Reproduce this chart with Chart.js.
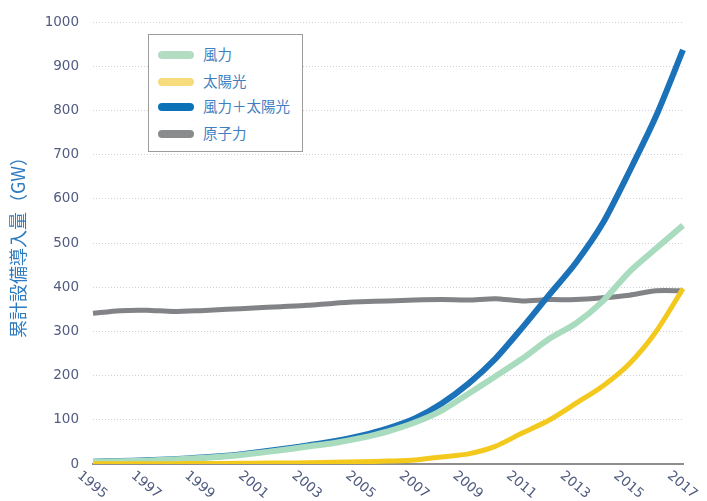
<!DOCTYPE html>
<html>
<head>
<meta charset="utf-8">
<script src="https://cdn.jsdelivr.net/npm/chart.js@4"></script>
<style>
  html,body{margin:0;padding:0;background:#fff;}
  #wrap{position:relative;width:707px;height:501px;}
  #legend{position:absolute;left:148px;top:34px;width:153px;height:116px;border:1px solid #9c9c9c;background:#fff;
    font-family:"Noto Sans CJK JP",sans-serif;font-size:14.5px;color:#3f7fc1;}
  .lg-row{position:absolute;left:9px;height:20px;line-height:20px;white-space:nowrap;}
  .lg-sw{display:inline-block;width:36px;height:8px;border-radius:4px;vertical-align:middle;margin-right:9px;position:relative;top:-1px;}
</style>
</head>
<body>
<div id="wrap">
  <canvas id="c" width="707" height="501"></canvas>
  <div id="legend"></div>
</div>
<script>
'use strict';

// data, GW
var YEARS=['1995','1996','1997','1998','1999','2000','2001','2002','2003','2004','2005','2006',
  '2007','2008','2009','2010','2011','2012','2013','2014','2015','2016','2017'];
var WIND=[4.8,6.1,7.6,10.2,13.6,17.4,23.9,31.1,39.4,47.6,59,74,94,121,159,198,238,283,318,368,435,488,540];
var SOLAR=[0.5,0.6,0.7,0.8,1.0,1.3,1.8,2.2,2.8,3.9,5.1,6.7,9,16,23,40,70,99,137,176,227,300,397];
var COMBINED=[5.3,6.7,8.3,11.0,14.6,18.7,25.7,33.3,42.2,51.5,64.1,80.7,103,137,182,238,308,382,455,544,662,788,937];
var NUCLEAR=[341,347,348,345,347,350,353,356,359,364,367,369,371,372,371,374,369,372,372,376,382,392,392];
var Y_TICKS=[0,100,200,300,400,500,600,700,800,900,1000];

var NAMES=['風力','太陽光','風力＋太陽光','原子力'];
var LINE_COL=['#a9dbbf','#f3c91e','#1b72b8','#818386'];
var SWATCH_COL=['#b4dcc3','#f6dc7c','#0b72b8','#898b8d'];

var TICK_COL='#515c80';
var TICK_FONT='13.5px "DejaVu Sans", sans-serif';

// slanted year labels, written downward to the right from each odd year
var xLabels={
  id:'xLabels',
  afterDraw:function(chart){
    var ctx=chart.ctx,xs=chart.scales.x,ca=chart.chartArea;
    ctx.save();
    ctx.fillStyle=TICK_COL;ctx.font=TICK_FONT;
    ctx.textAlign='left';ctx.textBaseline='middle';
    for(var i=0;i<YEARS.length;i+=2){
      var x=xs.getPixelForValue(i);
      ctx.save();
      ctx.translate(x-14,ca.bottom+10);
      ctx.rotate(40*Math.PI/180);
      ctx.fillText(YEARS[i],0,0);
      ctx.restore();
    }
    ctx.restore();
  }
};

function ds(i,data,w){
  return {label:NAMES[i],data:data,borderColor:LINE_COL[i],backgroundColor:LINE_COL[i],
    borderWidth:w,pointRadius:0,tension:0.25,fill:false,borderCapStyle:'butt'};
}

// order = drawing layer: higher drawn first
var datasets=[
  Object.assign(ds(0,WIND,6),{order:2}),
  Object.assign(ds(1,SOLAR,5),{order:1}),
  Object.assign(ds(2,COMBINED,6),{order:3}),
  Object.assign(ds(3,NUCLEAR,5),{order:4})
];

new Chart(document.getElementById('c'),{
  type:'line',
  data:{labels:YEARS,datasets:datasets},
  options:{
    responsive:false,animation:false,
    layout:{padding:{left:0,right:24,top:17,bottom:0}},
    plugins:{legend:{display:false},tooltip:{enabled:false}},
    scales:{
      x:{
        offset:false,
        grid:{display:false,drawTicks:false},
        border:{display:true,color:'#8e8e8e',width:2},
        ticks:{display:false},
        afterFit:function(s){s.height=37;}
      },
      y:{
        min:0,max:1000,
        afterBuildTicks:function(s){s.ticks=Y_TICKS.map(function(v){return{value:v};});},
        grid:{drawTicks:false,lineWidth:1,
          color:function(c){return c.tick&&c.tick.value===0?'rgba(0,0,0,0)':'#cdd0da';}},
        border:{display:false,dash:[1,2]},
        ticks:{color:TICK_COL,font:{family:'"DejaVu Sans", sans-serif',size:13.5},padding:14,
          callback:function(v){return String(v);}},
        title:{display:true,text:'累計設備導入量（GW）',color:'#2e7bbf',
          font:{family:'"Noto Sans CJK JP", sans-serif',size:18},padding:{top:7,bottom:0}},
        afterFit:function(s){s.width=93;}
      }
    }
  },
  plugins:[xLabels]
});

// legend box
var lg=document.getElementById('legend');
var rowTop=[9,36,61,88];
for(var i=0;i<NAMES.length;i++){
  var r=document.createElement('div');
  r.className='lg-row';r.style.top=rowTop[i]+'px';
  r.innerHTML='<span class="lg-sw" style="background:'+SWATCH_COL[i]+'"></span>'+NAMES[i];
  lg.appendChild(r);
}
</script>
</body>
</html>
